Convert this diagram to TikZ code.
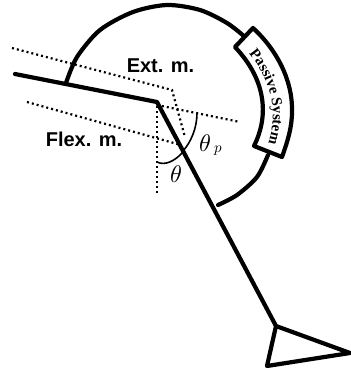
\documentclass[tikz,border=0pt]{standalone}
\usepackage{fontspec}
\setmainfont{Liberation Sans}
\newfontfamily\serifb{Liberation Serif}
\usepackage{unicode-math}
\setmathfont{Latin Modern Math}
\usetikzlibrary{decorations.text}
\tikzset{
  limb/.style={line width=4.2pt,line cap=round,line join=round},
  guide/.style={line width=2.2pt,dash pattern=on 2pt off 3pt},
  anglearc/.style={line width=1.6pt},
  tag/.style={font=\bfseries\fontsize{20}{22}\selectfont,inner sep=0pt},
  mathtag/.style={font=\fontsize{24}{26}\selectfont,inner sep=0pt}
}
\begin{document}
\begin{tikzpicture}[x=1pt,y=-1pt]
\useasboundingbox (0,0) rectangle (351,368);
% guides
\draw[guide] (12,48) -- (172,90) -- (185,137);
\draw[guide] (27,102) -- (181,145);
\draw[guide] (157,105) -- (240,122);
\draw[guide] (157,106) -- (157,195);
% angle arcs
\draw[anglearc] (197,113) .. controls (197,128) and (191,142) .. (183,151);
\draw[anglearc] (157,162) .. controls (165,166) and (175,161) .. (183,152);
% housing arc
\draw[limb] plot[smooth] coordinates {(66,83) (77,57) (100,30) (133,12) (167,5) (200,10) (227,23) (245,37)};
\draw[limb] plot[smooth] coordinates {(268,155) (257,177) (237,195) (218,205)};
% passive system box
\draw[limb,fill=white] (253,28) .. controls (276,49) and (293,80) .. (292,112) .. controls (292,128) and (287,143) .. (282,157)
  -- (254,146) .. controls (268,118) and (268,82) .. (235,47) -- cycle;
\path[decorate,decoration={text along path,text align=center,
  text={|\serifb\bfseries\fontsize{15}{15}\selectfont|Passive System}}]
  (243,47) .. controls (270,76) and (282,112) .. (265,152);
% limb
\draw[limb] (15,74) -- (157,102) -- (276,326) -- (350,353) -- (267,366) -- (276,326);
% labels
\node[tag] (ext) at (160.5,66) {Ext. m.};
\node[tag] (flex) at (84,139) {Flex. m.};
\node[mathtag] (tp) at (205,143) {$\theta$};
\node[font=\fontsize{15}{16}\selectfont,inner sep=0pt] (tps) at (218,151) {$p$};
\node[mathtag] (th) at (176,174) {$\theta$};
\end{tikzpicture}
\end{document}
